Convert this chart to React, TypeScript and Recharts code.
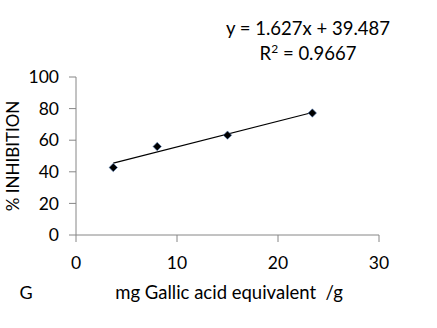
import React from 'react';
import { ScatterChart, Scatter, XAxis, YAxis, Customized } from 'recharts';

const xValues = [3.69, 8.04, 15.0, 23.4];
const yValues = [42.7, 56.0, 63.2, 77.2];
const xTicks = [0, 10, 20, 30];
const yTicks = [0, 20, 40, 60, 80, 100];
const slope = 1.627;
const intercept = 39.487;
const rSquared = '0.9667';

const points = xValues.map((x, i) => ({ x, y: yValues[i] }));
const xMin = Math.min(...xValues);
const xMax = Math.max(...xValues);
const trend = [
  { x: xMin, y: slope * xMin + intercept },
  { x: xMax, y: slope * xMax + intercept },
];

const FONT = 'Lato, "Open Sans", sans-serif';
const AXIS = '#868686';

const Diamond = (props: any) => {
  const { cx, cy } = props;
  const r = 4.2;
  return (
    <polygon
      points={`${cx},${cy - r} ${cx + r},${cy} ${cx},${cy + r} ${cx - r},${cy}`}
      fill="#000"
      stroke="#5b85c0"
      strokeWidth={0.6}
    />
  );
};

const Annotations = () => (
  <g fontFamily={FONT} fill="#000">
    <text x={308} y={35} textAnchor="middle" fontSize={18.5}>
      {`y = ${slope}x + ${intercept}`}
    </text>
    <text x={308} y={60} textAnchor="middle" fontSize={18.5}>
      R<tspan baselineShift="super" fontSize={12}>2</tspan> = {rSquared}
    </text>
    <text
      x={19}
      y={156}
      textAnchor="middle"
      fontSize={17}
      transform="rotate(-90 19 156)"
    >
      % INHIBITION
    </text>
    <text x={229} y={299} textAnchor="middle" fontSize={18.5} xmlSpace="preserve">
      {'mg Gallic acid equivalent  /g'}
    </text>
    <text x={26} y={299} textAnchor="middle" fontSize={18}>G</text>
  </g>
);

export default function App() {
  return (
    <div style={{ position: 'absolute', left: 0, top: 0, width: 437, height: 328, background: '#fff' }}>
      <ScatterChart
        width={437}
        height={328}
        margin={{ top: 77, right: 58, bottom: 63, left: 0 }}
      >
        <XAxis
          type="number"
          dataKey="x"
          domain={[0, 30]}
          ticks={xTicks}
          height={30}
          stroke={AXIS}
          tickSize={7}
          tickMargin={15}
          tick={{ fill: '#000', fontSize: 17.5, fontFamily: FONT }}
          allowDataOverflow
        />
        <YAxis
          type="number"
          dataKey="y"
          domain={[0, 100]}
          ticks={yTicks}
          width={76}
          stroke={AXIS}
          tickSize={7}
          tickMargin={10}
          tick={{ fill: '#000', fontSize: 17.5, fontFamily: FONT }}
          allowDataOverflow
        />
        <Scatter
          data={trend}
          line={{ stroke: '#000', strokeWidth: 1.2 }}
          shape={() => null}
          isAnimationActive={false}
        />
        <Scatter data={points} shape={<Diamond />} isAnimationActive={false} />
        <Customized component={Annotations} />
      </ScatterChart>
    </div>
  );
}
